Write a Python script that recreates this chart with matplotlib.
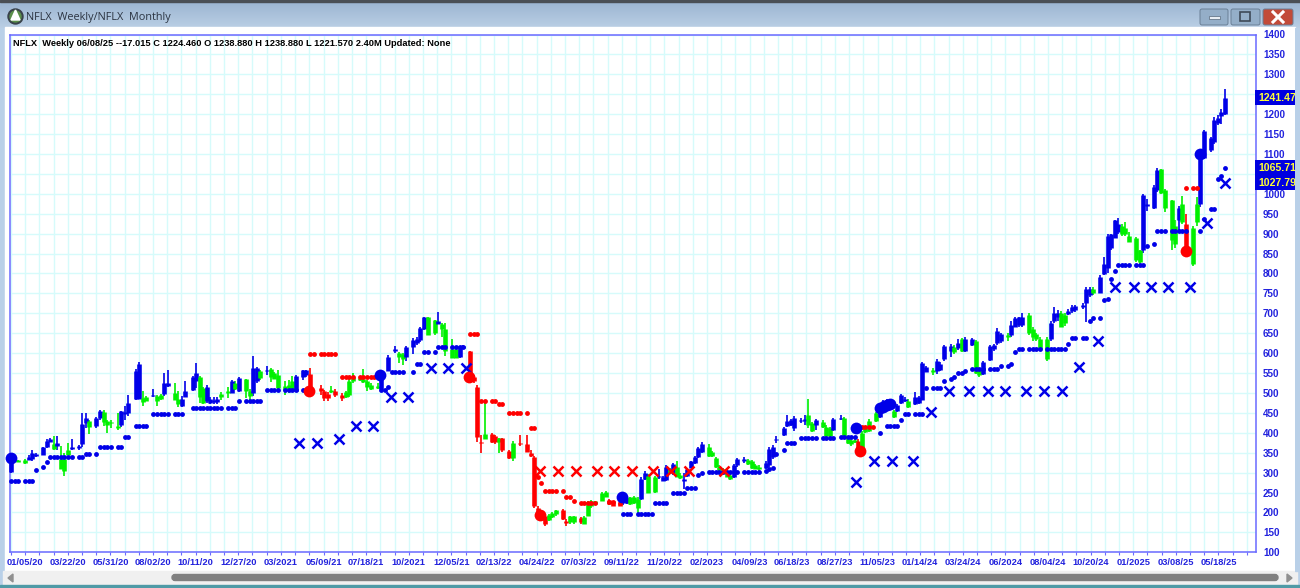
import numpy as np
import matplotlib
matplotlib.use('Agg')
import matplotlib.pyplot as plt
from matplotlib.colors import LinearSegmentedColormap
from matplotlib.patches import Rectangle, FancyBboxPatch, Circle, Polygon

plt.rcParams['font.family'] = ['Liberation Sans', 'DejaVu Sans']

# weekly bars, one row per label period. slot = place on the time axis (some slots stay empty)
slots = [0,2,4,5,6,7,9,10,11,
    12,13,14,15,16,17,19,20,21,22,
    24,25,26,27,28,30,31,32,33,35,
    36,37,38,40,41,42,43,44,46,47,
    48,49,51,52,53,54,55,56,57,58,59,
    61,62,63,64,66,67,68,69,70,
    72,73,74,75,77,78,79,80,82,83,
    84,87,88,89,90,91,93,94,95,
    96,98,99,100,101,103,104,106,
    108,109,110,111,113,114,115,116,117,119,
    120,121,122,124,125,126,127,129,130,131,
    132,133,135,136,137,138,140,141,143,
    145,146,147,148,149,150,151,152,153,155,
    156,157,158,160,161,162,163,164,166,167,
    168,169,171,172,173,174,175,176,177,178,179,
    181,182,183,184,185,186,187,188,189,190,191,
    192,193,194,196,197,198,199,200,201,202,203,
    204,206,207,208,209,210,212,213,214,215,
    217,218,219,220,222,223,224,225,226,
    228,229,230,231,233,234,235,236,237,238,239,
    240,241,243,244,245,246,248,249,250,251,
    252,254,255,256,257,259,260,261,262,264,265,
    266,267,268,270,271,272,273,275,276,277,278,
    280,281,282,283,284,286,287,288,289,291,
    292,293,294,295,296,297,298,299,301,302,303,304,
    306,307,308,309,310,311,312,313,314,316,317,318,319,
    321,322,323,324,326,327,328,329,330,332,333,334,335,
    337,338,339,340,341]
highs = [338,332,335,345,358,350,365,385,388,
    393,393,366,350,375,385,370,449,449,432,
    440,458,458,432,433,450,456,468,495,560,
    577,505,493,510,495,497,550,558,525,505,
    493,530,542,575,543,515,520,490,490,490,503,
    516,532,530,540,536,510,592,566,558,
    568,562,553,558,530,532,542,545,558,558,
    562,519,508,503,517,510,500,505,535,
    550,540,560,533,525,525,555,596,
    617,603,600,618,638,640,665,690,692,684,
    703,676,675,635,612,618,620,605,545,520,
    395,483,399,395,388,388,358,380,395,
    395,358,342,215,205,195,195,200,207,208,
    183,190,192,188,190,228,232,230,252,255,
    235,230,225,250,240,240,242,238,290,305,296,
    292,310,292,318,312,325,330,298,300,312,330,
    342,365,376,372,355,340,318,312,308,300,322,
    338,340,335,332,322,320,328,365,370,392,
    415,445,435,442,438,445,485,428,435,
    432,420,415,438,445,440,390,385,385,385,405,
    415,435,452,472,482,485,458,472,497,490,
    485,503,493,577,568,563,585,578,620,622,620,
    635,637,640,638,632,562,580,620,622,662,650,
    650,680,692,692,700,700,665,650,640,640,
    680,715,708,705,700,712,720,720,725,765,765,766,
    795,842,900,900,935,940,925,930,905,892,860,1000,988,
    1021,1065,1062,1013,985,935,970,995,950,920,992,1105,1160,
    1142,1193,1197,1214,1264]
lows = [298,326,322,332,328,340,345,362,378,
    358,358,308,292,345,358,358,365,412,398,
    412,432,418,400,412,408,415,432,442,483,
    485,468,480,490,468,482,492,515,483,465,
    465,490,505,512,475,473,475,472,473,473,483,
    488,500,507,503,488,478,493,525,533,
    546,528,535,506,496,500,505,503,533,540,
    508,495,480,480,500,490,480,488,490,
    525,530,525,505,507,510,505,556,
    600,575,570,580,597,620,628,657,645,645,
    672,640,594,588,588,588,610,540,525,378,
    350,385,375,373,350,352,335,330,368,
    353,340,210,190,180,165,178,185,190,180,
    165,172,172,172,170,190,212,220,228,238,
    220,215,215,220,222,220,222,196,232,282,248,
    250,285,278,280,298,295,288,285,260,290,312,
    322,338,350,340,340,312,305,300,288,282,286,
    315,325,318,308,308,305,310,315,335,375,
    392,415,416,405,425,420,412,403,408,
    412,390,390,405,432,387,372,368,375,350,355,
    400,403,428,438,452,455,438,452,472,478,
    462,470,473,483,552,545,547,555,580,590,598,
    608,603,603,618,548,540,545,580,606,620,625,
    630,640,665,665,665,645,630,630,610,580,
    630,675,680,665,668,695,700,703,712,678,740,745,
    750,795,800,858,888,900,895,895,880,829,825,852,958,
    963,1005,1000,955,858,865,908,925,858,820,920,968,1088,
    1105,1126,1172,1176,1197]
body_top = [336,331,332,340,350,348,365,380,384,
    372,375,335,333,358,365,368,422,438,430,
    436,456,452,430,428,418,454,453,475,555,
    572,488,489,495,492,494,525,525,500,485,
    485,505,540,550,541,513,516,485,482,484,498,
    505,530,526,538,534,505,563,563,555,
    558,560,550,545,517,520,530,542,557,558,
    548,512,505,498,507,505,495,502,530,
    540,537,535,530,520,518,550,590,
    610,600,598,615,634,635,663,690,690,684,
    680,673,660,610,610,617,618,605,540,515,
    378,398,398,393,386,386,355,375,375,
    372,350,340,212,200,190,193,198,205,205,
    178,190,190,186,188,226,230,228,250,252,
    232,228,223,240,237,238,238,235,285,300,292,
    290,292,290,315,308,322,315,295,285,308,328,
    340,362,372,365,352,338,315,310,305,295,320,
    335,335,332,330,318,315,325,360,365,385,
    412,430,432,438,432,435,445,425,432,
    428,415,412,435,438,438,387,382,382,380,400,
    412,430,450,470,480,483,455,470,495,485,
    480,490,490,575,565,558,580,572,618,618,615,
    625,635,635,635,630,560,577,618,620,655,648,
    645,670,688,690,690,695,660,648,635,635,
    675,700,700,700,695,705,715,718,722,760,762,762,
    790,825,895,898,935,925,920,915,895,890,858,998,975,
    1018,1060,1062,1010,985,920,965,975,925,915,975,1105,1158,
    1140,1185,1190,1205,1240]
body_bot = [302,327,324,332,335,342,345,364,378,
    360,368,310,304,345,360,362,372,425,415,
    416,436,426,420,424,412,420,448,450,484,
    485,477,480,492,480,484,498,518,483,472,
    468,490,507,530,490,475,480,475,478,478,490,
    500,500,510,505,505,493,500,530,538,
    554,540,535,512,507,507,510,505,540,545,
    510,505,488,488,503,495,488,490,495,
    530,532,527,515,510,512,510,556,
    605,590,585,590,615,625,634,660,645,650,
    672,660,605,588,588,590,612,545,530,390,
    375,385,378,377,376,358,338,338,372,
    353,342,215,192,182,172,182,188,195,183,
    174,175,175,175,172,192,215,222,230,240,
    222,217,216,225,225,222,225,212,235,285,250,
    252,290,280,282,300,298,290,287,280,292,312,
    325,340,352,342,342,315,307,302,290,285,290,
    318,330,322,312,310,308,312,320,340,382,
    395,418,420,412,430,430,420,405,420,
    415,393,392,408,435,388,375,372,376,355,360,
    402,405,430,440,455,460,440,455,475,480,
    465,472,475,483,553,552,555,558,585,605,603,
    612,605,605,620,550,545,548,582,610,625,630,
    640,645,665,670,670,650,640,635,610,585,
    635,680,690,665,675,698,705,708,716,725,745,750,
    752,798,815,865,890,905,900,900,880,835,830,860,970,
    965,1010,1002,965,885,875,935,930,860,825,930,975,1090,
    1110,1130,1178,1195,1200]
bar_kind = ("bggbbbbbb" "gbgggbbbbg" "bbggggbbbb" "bggbggbbgg" "bbbbggbbbbg"
    "gbgbggbbg" "bggggggbbb" "rrrrgrrgg" "ggggggbb" "bggbbbbbgg"
    "bggggbbrrr" "rgrrgrrgr" "rrrrrrgggr" "rggrgggggg" "rrrbbgggbbg"
    "gbbbgbggbbb" "bbbgggggggb" "bbggggbbbb" "bbbbbbggb" "gggbbggggrg"
    "gggbbbgbbb" "gbbbbgbbbbg" "bgbbggbbbbb" "gbbbbggggg" "bbbggbbbbbbg"
    "bbbbbbgggggbb" "bbggggbgrggbb" "bbbbb")

# stepped stop levels: first slot, last slot, price
blue_runs = [(0,2,280),(4,6,280),(7,7,307),(9,9,313),(10,10,326),(11,17,340),(19,20,340),(21,22,348),
    (24,24,348),(25,28,365),(30,31,365),(32,33,389),(35,38,417),(40,44,448),(46,48,448),(51,59,463),
    (61,63,463),(64,64,480),(66,70,480),(72,75,507),(77,80,507),(82,82,507),(104,105,507),(106,106,516),
    (107,110,553),(113,113,553),(114,115,573),(116,117,603),(119,119,603),(120,122,615),(124,127,615),
    (172,174,196),(176,180,196),(181,184,225),(186,189,250),(190,192,261),(193,193,294),(194,194,300),
    (196,200,301),(201,204,301),(206,210,301),(212,212,305),(213,213,308),(214,214,312),(215,215,346),
    (217,217,357),(218,220,375),(222,226,386),(228,231,386),(233,237,389),(244,244,400),(246,249,418),
    (250,250,431),(251,252,448),(254,256,448),(257,257,513),(259,261,513),(262,262,529),(264,264,535),
    (265,265,540),(266,267,550),(268,268,556),(270,273,559),(275,277,559),(278,278,568),(280,280,568),
    (281,281,573),(282,282,604),(283,284,610),(286,289,611),(291,296,611),(297,297,623),(298,299,638),
    (301,302,638),(303,303,681),(304,304,688),(306,306,688),(307,307,733),(308,308,737),(309,309,785),
    (310,310,805),(311,314,821),(316,318,821),(319,319,869),(321,321,873),(322,324,906),(326,330,906),
    (334,334,906),(335,335,936),(337,338,963),(339,339,1038),(340,340,1046),(341,341,1065)]
red_runs = [(84,85,598),(87,91,598),(93,96,540),(98,103,540),(129,131,648),(132,133,479),(135,136,479),
    (137,138,473),(140,143,449),(145,145,449),(146,147,412),(148,148,288),(149,149,274),(150,153,254),
    (155,155,254),(156,157,240),(158,158,229),(160,164,223),(168,169,227),(171,171,223),(239,242,415),
    (330,330,1015),(332,333,1015)]

# monthly crosses
blue_x_slots = [81,86,92,96.8,101.8,106.7,111.6,118,122.8,127.8,237.4,242.4,247.4,253.3,258.4,263.4,
    269.2,274.3,279.3,285.1,290.2,295.2,300.1,305.2,310.1,315.3,320.1,325.1,331.2,335.9,341]
blue_x_vals = [374,374,384,416,416,489,489,562,562,562,277,329,329,329,453,505,
    505,505,505,505,505,505,566,631,767,767,767,767,767,926,1028]
red_x_slots = [148.6,153.6,158.6,164.5,169.5,174.5,180.4,185.4,190.5,200.3]
red_x_vals = [305,305,305,305,305,305,305,305,305,305]

# signal circles
blue_sig_slots = [0,103.7,171.5,237.4,244,245,246,247,334]
blue_sig_vals = [336,546,240,411,462,466,470,473,1101]
red_sig_slots = [83.8,128.7,148.6,238.4,330]
red_sig_vals = [504,540,194,355,856]

date_labels = ['01/05/20','03/22/20','05/31/20','08/02/20','10/11/20','12/27/20','03/2021','05/09/21',
    '07/18/21','10/2021','12/05/21','02/13/22','04/24/22','07/03/22','09/11/22','11/20/22','02/2023',
    '04/09/23','06/18/23','08/27/23','11/05/23','01/14/24','03/24/24','06/2024','08/04/24','10/20/24',
    '01/2025','03/08/25','05/18/25']
tag_vals = [1241.47, 1065.71, 1027.79]
tag_text = ['1241.47', '1065.71', '1027.79']

header = 'NFLX  Weekly 06/08/25 --17.015 C 1224.460 O 1238.880 H 1238.880 L 1221.570 2.40M Updated: None'
title = 'NFLX  Weekly/NFLX  Monthly'

BLUE = '#0000e8'
GREEN = '#00f000'
RED = '#ff0000'
LINE = '#6a6aff'
kind_color = {'b': BLUE, 'g': GREEN, 'r': RED}

fig = plt.figure(figsize=(13, 5.88), dpi=100)

# window frame, drawn in pixels
bg = fig.add_axes([0, 0, 1, 1], zorder=0)
grad = np.linspace(0, 1, 40).reshape(-1, 1)
bg.imshow(grad, extent=(0, 1300, 30, 0), aspect='auto', cmap=LinearSegmentedColormap.from_list('t', ['#9ab4d0', '#bcd0e6']))
bg.set_xlim(0, 1300)
bg.set_ylim(588, 0)
bg.axis('off')
bg.add_patch(Rectangle((0, 0), 1300, 1.5, color='#4a4f55'))
bg.add_patch(Rectangle((0, 28), 1300, 560, color='#b9d0e8'))
bg.add_patch(Rectangle((5, 27), 1290, 545, color='white'))
bg.add_patch(Rectangle((3, 571), 1294, 14, color='#f0f0f0'))
bg.add_patch(Rectangle((0, 585), 1300, 3, color='#4f9aa6'))
bg.add_patch(FancyBboxPatch((172, 574.5), 1106, 6, boxstyle='round,pad=0,rounding_size=3', color='#808080'))
bg.add_patch(Polygon([(8, 578), (13, 574), (13, 582)], color='#909090'))
bg.add_patch(Polygon([(1292, 578), (1287, 574), (1287, 582)], color='#909090'))
bg.add_patch(Circle((15.5, 16.5), 7.5, color='#39424a'))
bg.add_patch(Circle((15.5, 16.5), 5.5, color='#5a8f4a'))
bg.add_patch(Polygon([(15.5, 10), (20, 20), (11, 20)], color='white'))
bg.text(26, 17.5, title, fontsize=7.85, family=['Open Sans', 'DejaVu Sans'], color='#2b3442', va='center')
for x0, w, fc in [(1200, 28, '#94aec8'), (1231, 29, '#94aec8'), (1263, 30, '#c24a38')]:
    bg.add_patch(FancyBboxPatch((x0, 9), w, 16, boxstyle='round,pad=0,rounding_size=2', fc=fc, ec='#6a7f96', lw=0.7))
bg.add_patch(Rectangle((1209, 16), 11, 3, fc='#e8eef4', ec='#56687a', lw=0.5))
bg.add_patch(Rectangle((1240, 12), 10, 9, fc='none', ec='#3e4a58', lw=1.2))
bg.plot([1273, 1283], [12, 22], color='white', lw=2.2)
bg.plot([1273, 1283], [22, 12], color='white', lw=2.2)

# chart
ax = fig.add_axes([10 / 1300, (588 - 552.3) / 588, 1246 / 1300, 517.8 / 588], zorder=1)
ax.set_xlim(-0.28, 349.7)
ax.set_ylim(100, 1400)

x = np.array(slots)
colors = [kind_color[k] for k in bar_kind]
ax.vlines(x, lows, highs, colors=colors, lw=1.2, zorder=3, clip_on=False)
ax.vlines(x, body_bot, body_top, colors=colors, lw=3.3, zorder=3, clip_on=False)

for runs, col in [(blue_runs, BLUE), (red_runs, RED)]:
    xs = [s for a, b, v in runs for s in range(a, b + 1)]
    ys = [v for a, b, v in runs for s in range(a, b + 1)]
    ax.plot(xs, ys, 'o', color=col, ms=3.5, mew=0, zorder=4, clip_on=False)

ax.plot(blue_x_slots, blue_x_vals, 'x', color=BLUE, ms=7, mew=1.8, zorder=5)
ax.plot(red_x_slots, red_x_vals, 'x', color=RED, ms=7, mew=1.8, zorder=5)
ax.plot(blue_sig_slots, blue_sig_vals, 'o', color=BLUE, ms=8.5, mew=0, zorder=6, clip_on=False)
ax.plot(red_sig_slots, red_sig_vals, 'o', color=RED, ms=8.5, mew=0, zorder=6, clip_on=False)

tick_pos = np.arange(0, 350, 3.99)
tick_lab = [''] * len(tick_pos)
for k, lab in enumerate(date_labels):
    tick_lab[1 + 3 * k] = lab
ax.set_xticks(tick_pos)
ax.set_xticklabels(tick_lab, fontsize=6.7, fontweight='bold', color='#2222dd')
ax.set_yticks(np.arange(100, 1401, 50))
ax.yaxis.tick_right()
ax.tick_params(axis='x', length=2.4, width=0.8, color=LINE, pad=1.5)
ax.tick_params(axis='y', length=0, pad=5, labelsize=7.1, labelcolor='#2222dd')
for t in ax.get_yticklabels():
    t.set_fontweight('bold')
ax.grid(True, color='#d6fbfb', lw=1.0)
ax.set_axisbelow(True)
for sp in ax.spines.values():
    sp.set_color(LINE)
    sp.set_linewidth(1.1)

ax.annotate(header, xy=(3, 508.5), xycoords='axes pixels', fontsize=6.69, fontweight='bold', color='black', va='center', zorder=7)

for val, txt in zip(tag_vals, tag_text):
    ax.annotate(txt, xy=(1, val), xycoords=ax.get_yaxis_transform(), xytext=(1.4, 0), textcoords='offset points',
        fontsize=7.6, fontweight='bold', color='#ffff33', va='center', ha='left',
        bbox=dict(fc='#0000e0', ec='none', boxstyle='square,pad=0.26'), zorder=8)

# keeps the price tags inside the window
edge = fig.add_axes([1295 / 1300, 0, 5 / 1300, 1], zorder=3)
edge.set_xlim(0, 5)
edge.set_ylim(588, 0)
edge.axis('off')
edge.add_patch(Rectangle((0, 28), 5, 543, color='#b9d0e8'))

fig.savefig('out.png', dpi=100)
